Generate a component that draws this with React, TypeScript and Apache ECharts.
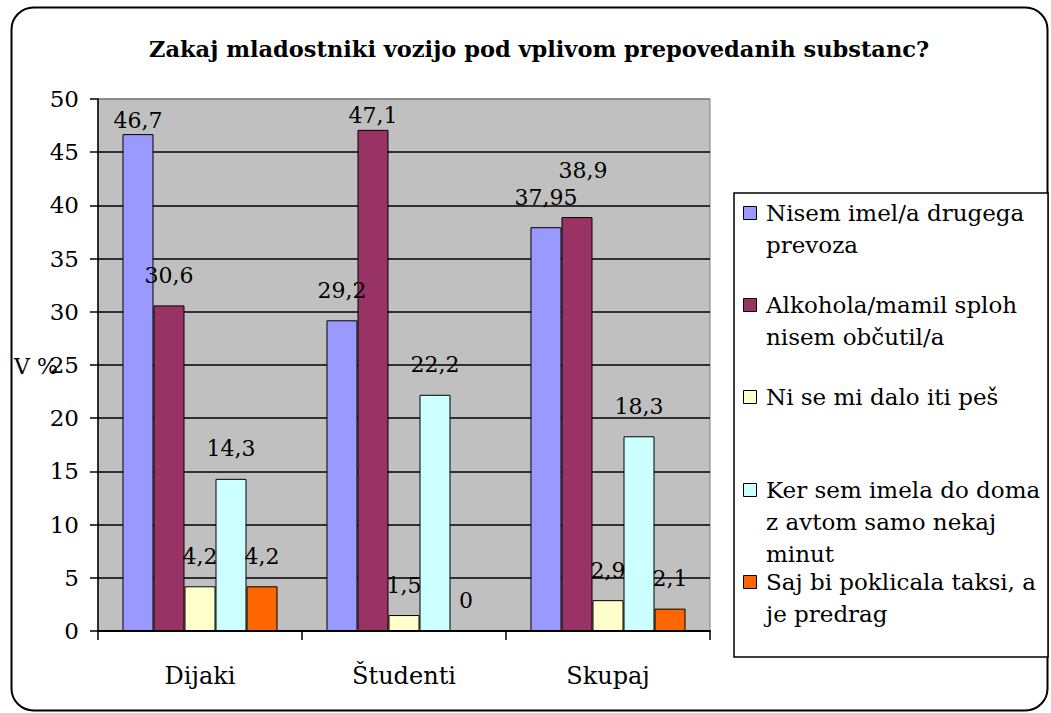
import React, { useEffect, useRef } from "react";
import * as echarts from "echarts";

const titleText = "Zakaj mladostniki vozijo pod vplivom prepovedanih substanc?";
const categories = ["Dijaki", "Študenti", "Skupaj"];
const seriesNames = [
  "Nisem imel/a drugega prevoza",
  "Alkohola/mamil sploh nisem občutil/a",
  "Ni se mi dalo iti peš",
  "Ker sem imela do doma z avtom samo nekaj minut",
  "Saj bi poklicala taksi, a je predrag",
];
const legendLines = [
  ["Nisem imel/a drugega", "prevoza"],
  ["Alkohola/mamil sploh", "nisem občutil/a"],
  ["Ni se mi dalo iti peš"],
  ["Ker sem imela do doma", "z avtom samo nekaj", "minut"],
  ["Saj bi poklicala taksi, a", "je predrag"],
];
const nisemImel = [46.7, 29.2, 37.95];
const alkohola = [30.6, 47.1, 38.9];
const niSeMiDalo = [4.2, 1.5, 2.9];
const kerSemImela = [14.3, 22.2, 18.3];
const sajBi = [4.2, 0, 2.1];
const seriesValues = [nisemImel, alkohola, niSeMiDalo, kerSemImela, sajBi];
const colors = ["#9999ff", "#993366", "#ffffcc", "#ccffff", "#ff6600"];
const yTicks = { min: 0, max: 50, interval: 5 };
const yAxisName = "V %";

// label nudges (series index - category index) to mimic original placement
const labelNudges: Record<string, [number, number]> = {
  "0-0": [0, 16],
  "1-1": [0, 16],
  "1-2": [6, -17],
};

// legend first-line centers
const legendRowY = [213, 305, 397, 490, 582];

const SERIF = "DejaVu Serif, Liberation Serif, serif";

export default function App() {
  const ref = useRef<HTMLDivElement>(null);
  useEffect(() => {
    if (!ref.current) return;
    const chart = echarts.init(ref.current, undefined, { renderer: "svg" });

    const series = seriesNames.map((name, si) => ({
      name,
      type: "bar",
      barGap: "0%",
      barCategoryGap: "24%",
      itemStyle: { color: colors[si], borderColor: "#000", borderWidth: 1 },
      label: {
        show: true,
        position: "top",
        distance: 19,
        fontFamily: SERIF,
        fontSize: 22,
        color: "#000",
        formatter: (p: any) => String(p.value).replace(".", ","),
      },
      data: seriesValues[si].map((v, ci) => {
        const nudge = labelNudges[`${si}-${ci}`];
        return nudge ? { value: v, label: { offset: nudge } } : { value: v };
      }),
    }));

    const splitColors: string[] = [];
    for (let v = yTicks.min; v <= yTicks.max; v += yTicks.interval) {
      splitColors.push(v === yTicks.max ? "#808080" : "#000");
    }

    const L = 32;
    const legendGraphics: any[] = [
      {
        type: "rect",
        shape: { x: 734, y: 193, width: 314, height: 464 },
        style: { fill: "#fff", stroke: "#000", lineWidth: 1.5 },
        z: 10,
      },
    ];
    legendLines.forEach((lines, i) => {
      legendGraphics.push({
        type: "rect",
        shape: { x: 743.5, y: legendRowY[i] - 6.5, width: 13, height: 13 },
        style: { fill: colors[i], stroke: "#000", lineWidth: 1 },
        z: 11,
      });
      legendGraphics.push({
        type: "text",
        x: 766,
        y: legendRowY[i] - L / 2,
        style: {
          text: lines.join("\n"),
          fontFamily: SERIF,
          fontSize: 23,
          lineHeight: L,
          fill: "#000",
          verticalAlign: "top",
          align: "left",
        },
        z: 11,
      });
    });

    chart.setOption({
      animation: false,
      backgroundColor: "#fff",
      title: {
        text: titleText,
        left: 144,
        top: 32,
        textStyle: { fontFamily: SERIF, fontWeight: "bold", fontSize: 22.5, color: "#000" },
      },
      grid: {
        left: 98,
        right: 341,
        top: 99,
        bottom: 82,
        show: true,
        backgroundColor: "#c0c0c0",
        borderColor: "#808080",
        borderWidth: 1,
      },
      xAxis: {
        type: "category",
        data: categories,
        axisLine: { lineStyle: { color: "#000", width: 2 } },
        axisTick: { show: true, length: 9, lineStyle: { color: "#000", width: 1.5 } },
        axisLabel: { fontFamily: SERIF, fontSize: 24, color: "#000", margin: 33 },
      },
      yAxis: {
        type: "value",
        min: yTicks.min,
        max: yTicks.max,
        interval: yTicks.interval,
        axisLine: { show: true, lineStyle: { color: "#000", width: 1.5 } },
        axisTick: { show: true, length: 8, lineStyle: { color: "#000", width: 1.5 } },
        axisLabel: { fontFamily: SERIF, fontSize: 23, color: "#000", margin: 19 },
        splitLine: { show: true, lineStyle: { color: splitColors, width: 1.5 } },
      },
      graphic: [
        {
          type: "rect",
          shape: { x: 11.5, y: 7.5, width: 1036, height: 703, r: 22 },
          style: { fill: "none", stroke: "#000", lineWidth: 2 },
          z: -1,
          silent: true,
        },
        {
          type: "text",
          x: 14,
          y: 366,
          style: {
            text: yAxisName,
            fontFamily: SERIF,
            fontSize: 22,
            fill: "#000",
            verticalAlign: "middle",
            align: "left",
          },
          z: 5,
        },
        ...legendGraphics,
      ],
      series,
    });
    return () => chart.dispose();
  }, []);
  return (
    <div
      ref={ref}
      style={{ position: "absolute", left: 0, top: 0, width: 1051, height: 713 }}
    />
  );
}
